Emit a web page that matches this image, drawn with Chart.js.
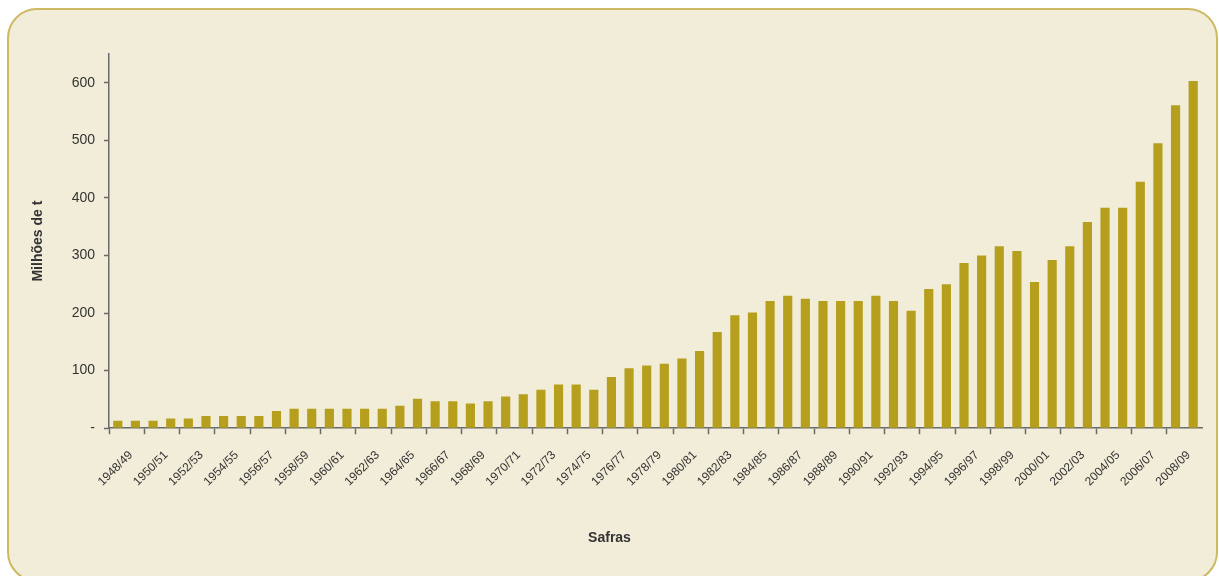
<!DOCTYPE html>
<html lang="pt">
<head>
<meta charset="utf-8">
<title>Produção por safra</title>
<script src="https://cdn.jsdelivr.net/npm/chart.js@4.4.1/dist/chart.umd.min.js"></script>
<style>
  html, body { margin: 0; padding: 0; background: #ffffff; }
  body { width: 1219px; height: 576px; position: relative; overflow: hidden; }
  .card {
    position: absolute; left: 7px; top: 8px; width: 1211px; height: 574px;
    box-sizing: border-box; border: 2px solid #CDB962; border-radius: 30px;
    background: #F2EDD9;
  }
  #chart { position: absolute; left: 0; top: 0; }
</style>
</head>
<body>
<div class="card"></div>
<canvas id="chart" width="1219" height="576"></canvas>
<script>
// Safras (crop seasons)
const safras = [
  '1948/49','1949/50','1950/51','1951/52','1952/53','1953/54','1954/55','1955/56',
  '1956/57','1957/58','1958/59','1959/60','1960/61','1961/62','1962/63','1963/64',
  '1964/65','1965/66','1966/67','1967/68','1968/69','1969/70','1970/71','1971/72',
  '1972/73','1973/74','1974/75','1975/76','1976/77','1977/78','1978/79','1979/80',
  '1980/81','1981/82','1982/83','1983/84','1984/85','1985/86','1986/87','1987/88',
  '1988/89','1989/90','1990/91','1991/92','1992/93','1993/94','1994/95','1995/96',
  '1996/97','1997/98','1998/99','1999/00','2000/01','2001/02','2002/03','2003/04',
  '2004/05','2005/06','2006/07','2007/08','2008/09','2009/10'
];

// Produção em milhões de toneladas
const producao = [
  13, 13, 13, 17, 17, 21, 21, 21,
  21, 30, 34, 34, 34, 34, 34, 34,
  39, 51, 47, 47, 43, 47, 55, 59,
  67, 76, 76, 67, 89, 104, 109, 112,
  121, 134, 167, 196, 201, 221, 230, 225,
  221, 221, 221, 230, 221, 204, 242, 250,
  287, 300, 316, 308, 254, 292, 316, 358,
  383, 383, 428, 495, 561, 603
];

// Eixo vertical
const yTicks = [0, 100, 200, 300, 400, 500, 600];
const yMax = 650;

const FONT = "'Liberation Sans', Arial, sans-serif";
const AXIS = '#6a6a6a';
const TEXT = '#333333';
const NONE = 'rgba(0,0,0,0)';

new Chart(document.getElementById('chart'), {
  type: 'bar',
  data: {
    labels: safras,
    datasets: [{
      data: producao,
      backgroundColor: '#B59F1C',
      borderWidth: 0,
      categoryPercentage: 1.0,
      barPercentage: 0.52
    }]
  },
  options: {
    responsive: false,
    animation: false,
    layout: { padding: { top: 54, right: 0, left: 0, bottom: 0 } },
    plugins: {
      legend: { display: false },
      tooltip: { enabled: false },
      title: {
        display: true,
        position: 'bottom',
        text: 'Safras',
        color: TEXT,
        font: { family: FONT, size: 14, weight: 'bold' },
        padding: { top: 12, bottom: 29 }
      }
    },
    scales: {
      x: {
        offset: true,
        border: { display: true, color: AXIS, width: 1.5 },
        grid: {
          offset: true,
          drawOnChartArea: false,
          drawTicks: true,
          tickLength: 6,
          tickWidth: 1.5,
          tickColor: ctx => (ctx.index % 2 === 0 ? AXIS : NONE)
        },
        ticks: {
          autoSkip: false,
          minRotation: 45,
          maxRotation: 45,
          labelOffset: 13,
          padding: 14,
          color: TEXT,
          font: { family: FONT, size: 12 },
          callback: (v, i) => (i % 2 === 0 ? safras[i] : '')
        },
        afterFit: s => { s.height = 90; }
      },
      y: {
        min: 0,
        max: yMax,
        border: { display: true, color: AXIS, width: 1.5 },
        grid: {
          drawOnChartArea: false,
          drawTicks: true,
          tickLength: 5,
          tickWidth: 1.5,
          tickColor: AXIS
        },
        afterBuildTicks: s => { s.ticks = yTicks.map(v => ({ value: v })); },
        ticks: {
          padding: 9,
          color: TEXT,
          font: { family: FONT, size: 14 },
          callback: v => (v === 0 ? '-' : String(v))
        },
        title: {
          display: true,
          text: 'Milhões de t',
          color: TEXT,
          font: { family: FONT, size: 14, weight: 'bold' },
          padding: { top: 30, bottom: 0 }
        },
        afterFit: s => { s.width = 109; }
      },
      // empty right-hand margin so the plot ends short of the card edge
      yRight: {
        position: 'right',
        display: true,
        border: { display: false },
        grid: { display: false, drawTicks: false },
        ticks: { display: false },
        afterFit: s => { s.width = 17; }
      }
    }
  }
});
</script>
</body>
</html>
